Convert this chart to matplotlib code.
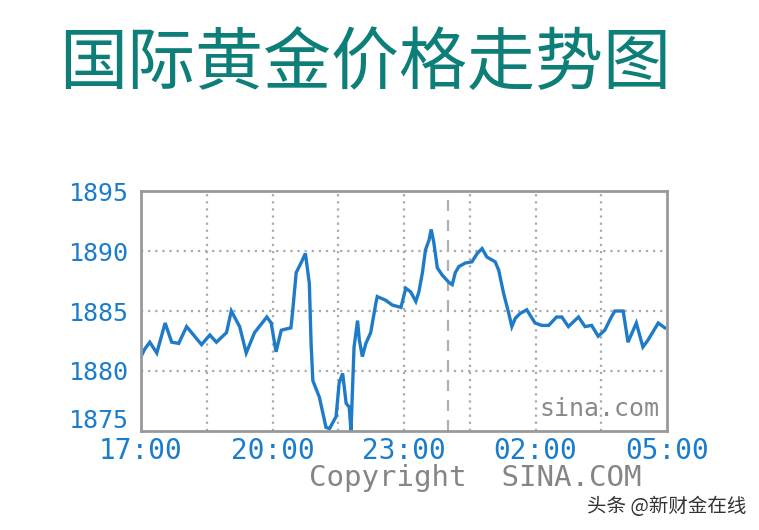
import matplotlib
matplotlib.use("Agg")
import matplotlib.pyplot as plt
import matplotlib.transforms as mtransforms

plt.rcParams['font.family'] = ['Noto Sans CJK SC', 'DejaVu Sans']

# hours after 17:00, price (USD/oz)
hours = [0.00, 0.08, 0.20, 0.36, 0.55, 0.70, 0.86, 1.04, 1.38, 1.57, 1.72, 1.95,
         2.06, 2.25, 2.40, 2.59, 2.87, 2.97, 3.08, 3.20, 3.42, 3.46, 3.54, 3.65,
         3.75, 3.84, 3.88, 3.92, 4.07, 4.22, 4.30, 4.45, 4.52, 4.60, 4.68, 4.75,
         4.79, 4.86, 4.94, 4.98, 5.05, 5.13, 5.24, 5.36, 5.39, 5.58, 5.73, 5.93,
         6.04, 6.15, 6.27, 6.34, 6.42, 6.49, 6.57, 6.62, 6.68, 6.76, 6.87, 7.02,
         7.10, 7.17, 7.25, 7.40, 7.55, 7.67, 7.78, 7.89, 8.08, 8.16, 8.27, 8.39,
         8.46, 8.54, 8.65, 8.80, 8.92, 8.99, 9.14, 9.30, 9.48, 9.60, 9.75, 9.98,
         10.13, 10.28, 10.43, 10.58, 10.73, 10.81, 11.00, 11.11, 11.30, 11.45,
         11.57, 11.80, 11.95]
prices = [1881.2, 1881.8, 1882.4, 1881.5, 1884.0, 1882.4, 1882.3, 1883.7, 1882.2,
          1883.0, 1882.4, 1883.2, 1885.0, 1883.7, 1881.5, 1883.2, 1884.5, 1884.0,
          1881.6, 1883.4, 1883.6, 1885.0, 1888.2, 1889.0, 1889.8, 1887.3, 1882.3,
          1879.2, 1877.8, 1875.3, 1875.2, 1876.2, 1879.0, 1879.8, 1877.3, 1877.0,
          1875.0, 1882.0, 1884.2, 1882.6, 1881.2, 1882.3, 1883.2, 1885.7, 1886.2,
          1885.9, 1885.5, 1885.3, 1886.9, 1886.6, 1885.8, 1886.6, 1888.2, 1890.1,
          1890.9, 1891.8, 1890.7, 1888.6, 1888.0, 1887.4, 1887.2, 1888.2, 1888.7,
          1889.0, 1889.1, 1889.8, 1890.2, 1889.5, 1889.1, 1888.4, 1886.5, 1884.8,
          1883.7, 1884.4, 1884.8, 1885.1, 1884.4, 1884.0, 1883.8, 1883.8, 1884.5,
          1884.5, 1883.7, 1884.5, 1883.7, 1883.8, 1882.9, 1883.4, 1884.5, 1885.0,
          1885.0, 1882.4, 1884.0, 1882.0, 1882.6, 1884.0, 1883.6]

x_ticks = [0, 3, 6, 9, 12]
x_labels = ['17:00', '20:00', '23:00', '02:00', '05:00']
y_ticks = [1875, 1880, 1885, 1890, 1895]

blue = '#1a7ccc'
grid_c = '#aaaaaa'

fig = plt.figure(figsize=(7.59, 5.30), dpi=100)
ax = fig.add_axes([0.1858, 0.1868, 0.6930, 0.4528])

ax.plot(hours, prices, color='#1f7bc8', lw=2.4, solid_joinstyle='miter')

ax.set_xlim(0, 12)
ax.set_ylim(1875, 1895)

# dotted grid every 1.5h / 5 usd
for gx in [1.5, 3, 4.5, 6, 7.5, 9, 10.5]:
    ax.axvline(gx, color=grid_c, lw=1.6, ls=(0, (1, 2.2)), zorder=0)
for gy in [1880, 1885, 1890]:
    ax.axhline(gy, color=grid_c, lw=1.6, ls=(0, (1, 2.2)), zorder=0)
# midnight marker
ax.axvline(7.0, color='#b0b0b0', lw=1.6, ls=(0, (5, 4)), zorder=0)

for sp in ax.spines.values():
    sp.set_color('#999999')
    sp.set_linewidth(2)

ax.set_xticks(x_ticks)
ax.set_xticklabels(x_labels, family='DejaVu Sans Mono', fontsize=20, color=blue)
ax.set_yticks(y_ticks)
ax.set_yticklabels([str(v) for v in y_ticks], family='DejaVu Sans Mono', fontsize=18, color=blue)
ax.tick_params(axis='both', length=0)
ax.tick_params(axis='x', pad=4)
ax.tick_params(axis='y', pad=9)

# bottom y label sits a bit higher in the original
lbl = ax.get_yticklabels()[0]
lbl.set_transform(lbl.get_transform() + mtransforms.ScaledTranslation(0, 12 / 100, fig.dpi_scale_trans))

ax.text(0.985, 0.04, 'sina.com', transform=ax.transAxes, ha='right', va='bottom',
        family='DejaVu Sans Mono', fontsize=18, color='#8a8a8a')

fig.text(0.626, 0.098, 'Copyright  SINA.COM', ha='center', va='center',
         family='DejaVu Sans Mono', fontsize=21, color='#858585')

fig.text(0.481, 0.878, '国际黄金价格走势图', ha='center', va='center',
         fontsize=49, color='#0d7f78')

fig.text(0.983, 0.045, '头条 @新财金在线', ha='right', va='center',
         fontsize=14, color='#333333')

fig.savefig('out.png', dpi=100)
